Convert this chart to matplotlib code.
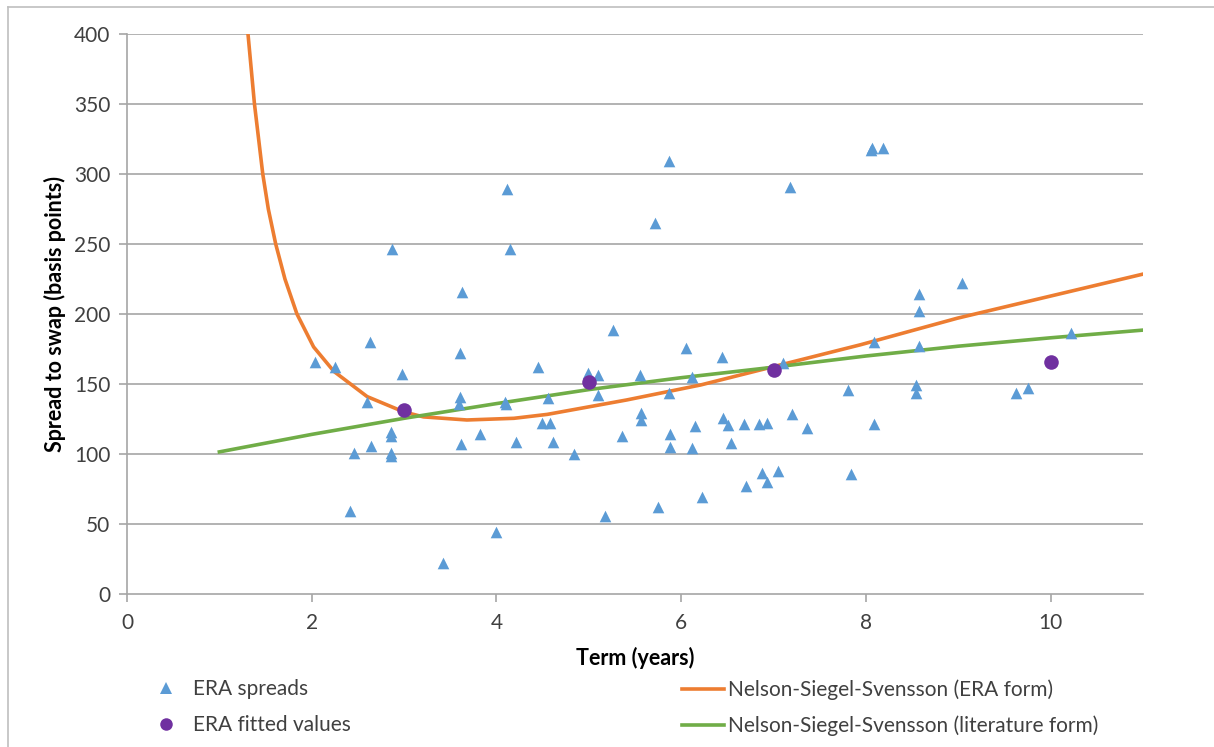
import matplotlib
matplotlib.use("Agg")
import matplotlib.pyplot as plt
from matplotlib.lines import Line2D

plt.rcParams['font.family'] = ['Lato', 'DejaVu Sans']

# ERA spreads (term in years, spread in bp)
spread_term = [2.04, 2.25, 2.41, 2.46, 2.60, 2.63, 2.64, 2.86, 2.86, 2.86, 2.86, 2.87, 2.98,
               3.42, 3.59, 3.61, 3.61, 3.62, 3.63, 3.82, 4.00, 4.09, 4.10, 4.11, 4.15, 4.21,
               4.45, 4.49, 4.58, 4.56, 4.61, 4.84, 4.99, 5.10, 5.10, 5.18, 5.26, 5.36, 5.55,
               5.57, 5.57, 5.72, 5.75, 5.87, 5.87, 5.88, 5.88, 6.05, 6.12, 6.12, 6.15, 6.22,
               6.44, 6.45, 6.51, 6.54, 6.68, 6.70, 6.84, 6.87, 6.93, 6.93, 7.05, 7.10, 7.18,
               7.20, 7.36, 7.81, 7.84, 8.06, 8.07, 8.18, 8.09, 8.09, 8.54, 8.54, 8.57, 8.57,
               8.58, 9.04, 9.63, 9.76, 10.22]
spread_bp = [166, 162, 59, 100.5, 137.5, 180, 105.5, 116, 113, 101, 98.5, 246.5, 157,
             22, 136, 140.5, 172.5, 107.5, 216, 114.5, 44, 137.5, 136, 289, 246.5, 108.5,
             162, 122, 122, 140, 108.5, 100, 158, 156.5, 142, 56, 188.5, 113, 156.5,
             129, 124.5, 265, 62, 309.5, 143.5, 114.5, 105, 175.5, 155, 104, 120, 69,
             169, 126, 121, 108, 121.5, 77.5, 121.5, 86.5, 122.5, 80, 88, 165, 291,
             128.5, 118.5, 146, 85.5, 317, 318.5, 318.5, 180, 121.5, 149, 143.5, 214, 202,
             177.5, 222, 143.5, 147.5, 186.5]

# ERA fitted values
fitted_term = [3, 5, 7, 10]
fitted_bp = [131.5, 151.5, 160, 166]

# Nelson-Siegel-Svensson (ERA form)
nss_era_term = [1.31, 1.38, 1.47, 1.53, 1.61, 1.71, 1.84, 2.02, 2.24, 2.60, 3.00, 3.21,
                3.68, 4.19, 4.55, 4.91, 5.41, 6.21, 7.00, 7.94, 8.99, 11.0]
nss_era_bp = [400, 350, 300, 275, 250, 225, 200, 176.5, 159, 141, 130, 126.5,
              124.3, 125.5, 128.3, 132.6, 138.6, 149.3, 162.4, 178, 197, 228.5]

# Nelson-Siegel-Svensson (literature form)
nss_lit_term = [1, 2, 3, 4, 5, 6, 7, 8, 9, 10, 11]
nss_lit_bp = [101.5, 114, 125.5, 136, 146, 154.5, 162, 170, 177, 183, 188.5]

x_ticks = [0, 2, 4, 6, 8, 10]
y_ticks = [0, 50, 100, 150, 200, 250, 300, 350, 400]

W, H = 1214, 747
fig = plt.figure(figsize=(W / 100, H / 100), dpi=100)
ax = fig.add_axes([127 / W, 1 - 594 / H, (1143 - 127) / W, (594 - 34) / H])

grid_c = '#A6A6A6'
for y in y_ticks[1:]:
    ax.axhline(y, color=grid_c, lw=1.2, zorder=0)

ax.plot(nss_era_term, nss_era_bp, color='#ED7D31', lw=2.6, zorder=3,
        solid_joinstyle='round')
ax.plot(nss_lit_term, nss_lit_bp, color='#70AD47', lw=2.6, zorder=3)
ax.scatter(spread_term, spread_bp, marker='^', s=70, color='#5B9BD5', zorder=4,
           linewidths=0)
ax.scatter(fitted_term, fitted_bp, marker='o', s=110, color='#7030A0', zorder=5,
           linewidths=0)

ax.set_xlim(0, 11)
ax.set_ylim(0, 400)
ax.set_xticks(x_ticks)
ax.set_yticks(y_ticks)
for s in ['top', 'right']:
    ax.spines[s].set_visible(False)
for s in ['left', 'bottom']:
    ax.spines[s].set_color(grid_c)
    ax.spines[s].set_linewidth(1.2)
ax.tick_params(axis='both', colors=grid_c, length=6, width=1.2,
               labelcolor='#404040', labelsize=15)
ax.tick_params(axis='x', pad=8)
ax.tick_params(axis='y', pad=6)

ax.set_xlabel('Term (years)', fontsize=15.5, fontweight='bold', color='black', labelpad=10)
ax.set_ylabel('Spread to swap (basis points)', fontsize=15.5, fontweight='bold',
              color='black', labelpad=6)

# Legends
h1 = Line2D([], [], marker='^', ls='none', color='#5B9BD5', markersize=8, markeredgewidth=0)
h2 = Line2D([], [], marker='o', ls='none', color='#7030A0', markersize=9, markeredgewidth=0)
h3 = Line2D([], [], color='#ED7D31', lw=2.6)
h4 = Line2D([], [], color='#70AD47', lw=2.6)

leg1 = fig.legend([h1, h2], ['ERA spreads', 'ERA fitted values'],
                  loc='upper left', bbox_to_anchor=(145 / W, 1 - 669 / H),
                  frameon=False, fontsize=15, handlelength=1.0, handletextpad=0.8,
                  labelspacing=0.75, borderpad=0, labelcolor='#404040')
leg2 = fig.legend([h3, h4], ['Nelson-Siegel-Svensson (ERA form)',
                             'Nelson-Siegel-Svensson (literature form)'],
                  loc='upper left', bbox_to_anchor=(672 / W, 1 - 669 / H),
                  frameon=False, fontsize=15, handlelength=2.0, handletextpad=0.2,
                  labelspacing=0.75, borderpad=0, labelcolor='#404040')

# chart-area border (top and left)
fig.add_artist(Line2D([8 / W, 1.0], [1 - 7 / H, 1 - 7 / H], color='#BFBFBF', lw=1.2))
fig.add_artist(Line2D([8 / W, 8 / W], [1 - 7 / H, 0.0], color='#BFBFBF', lw=1.2))

fig.savefig('out.png', dpi=100)
